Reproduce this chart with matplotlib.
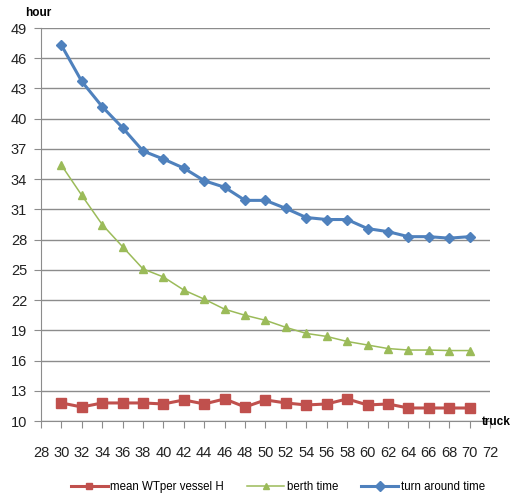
import matplotlib
matplotlib.use("Agg")
import matplotlib.pyplot as plt

trucks = [30, 32, 34, 36, 38, 40, 42, 44, 46, 48, 50, 52, 54, 56, 58, 60, 62, 64, 66, 68, 70]
mean_wt = [11.8, 11.4, 11.8, 11.8, 11.8, 11.7, 12.1, 11.7, 12.2, 11.4, 12.1,
           11.8, 11.6, 11.7, 12.2, 11.6, 11.7, 11.3, 11.3, 11.3, 11.3]
berth_time = [35.4, 32.4, 29.5, 27.3, 25.1, 24.3, 23.0, 22.1, 21.1, 20.5, 20.0,
              19.3, 18.7, 18.4, 17.9, 17.55, 17.2, 17.05, 17.05, 17.0, 17.0]
turnaround = [47.3, 43.7, 41.2, 39.1, 36.8, 36.0, 35.1, 33.85, 33.2, 31.9, 31.9,
              31.1, 30.2, 30.0, 30.0, 29.1, 28.8, 28.3, 28.3, 28.15, 28.3]
x_ticks = list(range(28, 73, 2))
y_ticks = [10, 13, 16, 19, 22, 25, 28, 31, 34, 37, 40, 43, 46, 49]

font = "Liberation Sans"

fig = plt.figure(figsize=(5.12, 4.96), dpi=100)
ax = fig.add_axes([0.080, 0.151, 0.877, 0.7925])

ax.plot(trucks, mean_wt, color="#C0504D", lw=2.2, marker="s", ms=6.5,
        label="mean WTper vessel H")
ax.plot(trucks, berth_time, color="#9BBB59", lw=1.1, marker="^", ms=5.5,
        label="berth time")
ax.plot(trucks, turnaround, color="#4F81BD", lw=2.2, marker="D", ms=5.5,
        label="turn around time")

ax.set_xlim(28, 72)
ax.set_ylim(10, 49)
ax.set_xticks(x_ticks)
ax.set_yticks(y_ticks)
ax.grid(axis="y", color="#8c8c8c", lw=1.0)
ax.set_axisbelow(True)
for s in ("top", "right"):
    ax.spines[s].set_visible(False)
for s in ("left", "bottom"):
    ax.spines[s].set_color("#8c8c8c")
ax.tick_params(axis="x", direction="out", length=5, color="#8c8c8c", pad=13)
ax.tick_params(axis="y", length=5, color="#8c8c8c", pad=5)
for lab in ax.get_xticklabels() + ax.get_yticklabels():
    lab.set_fontfamily(font)
    lab.set_fontsize(10.5)
    lab.set_color("#222222")

fig.text(0.049, 0.973, "hour", fontsize=8.5, fontweight="bold",
         family=font, va="center", ha="left")
fig.text(0.998, 0.149, "truck", fontsize=8.5, family=font,
         va="center", ha="right", fontweight="bold")

leg = fig.legend(loc="center", bbox_to_anchor=(0.543, 0.018), ncol=3, frameon=False,
                 prop={"family": font, "size": 8.3}, handlelength=3.2,
                 columnspacing=2.0, handletextpad=0.25)
for h in leg.legend_handles:
    h.set_markersize(5)

fig.savefig("out.png", dpi=100)
